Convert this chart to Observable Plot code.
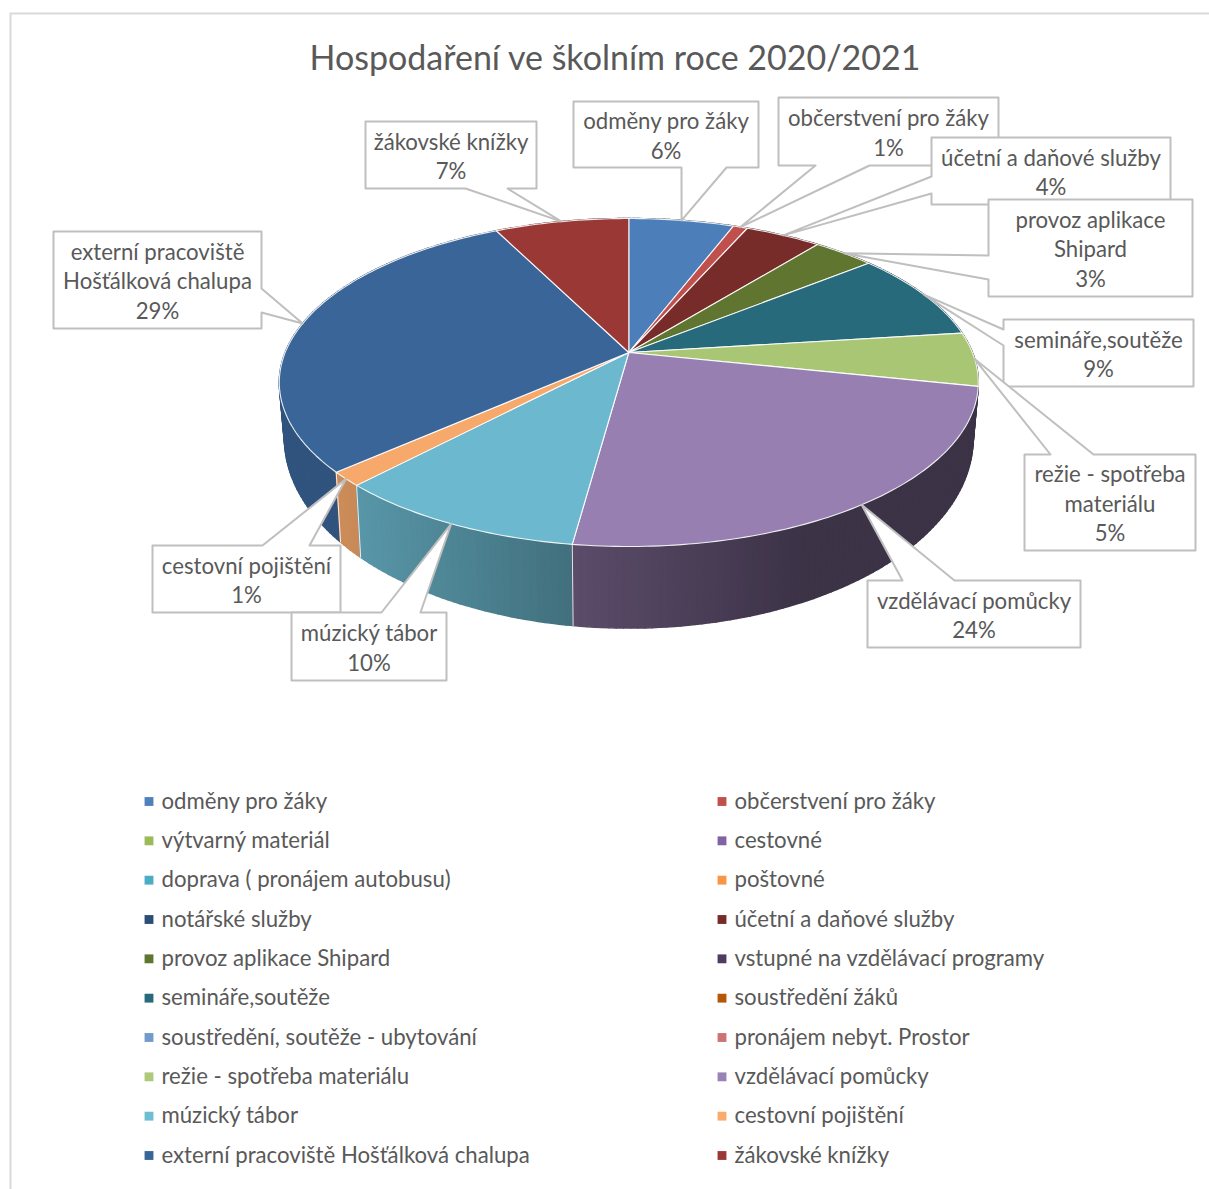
<!DOCTYPE html>
<html><head><meta charset="utf-8">
<script src="https://cdn.jsdelivr.net/npm/d3@7"></script>
<script src="https://cdn.jsdelivr.net/npm/@observablehq/plot@0.6"></script>
<style>html,body{margin:0;padding:0;background:#fff;overflow:hidden}</style>
</head><body><div id="chart"></div>
<script>
const title = "Hospodaření ve školním roce 2020/2021";
const categories = ["odměny pro žáky","občerstvení pro žáky","výtvarný materiál","cestovné","doprava ( pronájem autobusu)","poštovné","notářské služby","účetní a daňové služby","provoz aplikace Shipard","vstupné na vzdělávací programy","semináře,soutěže","soustředění žáků","soustředění, soutěže - ubytování","pronájem nebyt. Prostor","režie - spotřeba materiálu","vzdělávací pomůcky","múzický tábor","cestovní pojištění","externí pracoviště Hošťálková chalupa","žákovské knížky"];
const values = [5.8,0.8,0,0,0,0,0,4.2,3.4,0,8.8,0,0,0,5.3,23.85,9.9,1.4,29.15,7.4];
const topColors = ["#4c7fb9","#c0504d","#9bbb59","#8064a2","#4bacc6","#f79646","#2c4d75","#772c2a","#5f7530","#4d3b62","#276a7c","#b65708","#729aca","#cd7371","#a9c675","#977fb1","#6cb9cf","#f6a96b","#3a6598","#9a3835"];
const legendColors = ["#4f81bd","#c0504d","#9bbb59","#8064a2","#4bacc6","#f79646","#2c4d75","#772c2a","#5f7530","#4d3b62","#276a7c","#b65708","#729aca","#cd7371","#afc97a","#9983b5","#6fbdd1","#f9ab6b","#3a6598","#9a3835"];

// Callout layout (presentation only, keyed by category index)
const callouts = [
 {i:0, text:"odměny pro žáky", box:[573,101,758,167], side:"bottom", base:[726,681]},
 {i:1, text:"občerstvení pro žáky", box:[778,97,998,165], side:"bottom", base:[869,815]},
 {i:7, text:"účetní a daňové služby", box:[931,137,1170,204], side:"left", base:[193,176]},
 {i:8, text:"provoz aplikace\nShipard", box:[988,199,1192,296], side:"left", base:[279,255]},
 {i:10,text:"semináře,soutěže", box:[1003,319,1193,386], side:"left", base:[345,329]},
 {i:14,text:"režie - spotřeba\nmateriálu", box:[1024,454,1195,550], side:"top", base:[1050,1093]},
 {i:15,text:"vzdělávací pomůcky", box:[867,580,1080,647], side:"top", base:[902,954]},
 {i:17,text:"cestovní pojištění", box:[152,545,340,612], side:"top", base:[262,309]},
 {i:16,text:"múzický tábor", box:[291,612,446,680], side:"top", base:[381,420]},
 {i:18,text:"externí pracoviště\nHošťálková chalupa", box:[53,231,261,328], side:"right", base:[288,312]},
 {i:19,text:"žákovské knížky", box:[365,121,536,188], side:"bottom", base:[507,465]}
];

// Perspective projection of the pie discs
const top3d = {cx:628.3, cy:352, a:343.6, b:158.5, k:0.183};
const low3d = {cx:628.3, cy:403, a:338.5, b:183.5, k:0.183};
const proj = (d, th) => {
  const X = Math.sin(th), Y = -Math.cos(th), w = 1 - d.k*Y;
  return [d.cx + d.a*X/w, d.cy + d.b*Y/w];
};
const total = d3.sum(values);
const turn = v => v/total*2*Math.PI;
let acc = 0;
const slices = values.map((v,i)=>{const s={i,v,a0:turn(acc),a1:turn(acc+v)};acc+=v;return s;}).filter(s=>s.v>0);

const shade = d3.scaleLinear().domain([340,575,800]).range([0.83,0.6,0.4]).clamp(true);
const darken = (c,f)=>{const r=d3.rgb(c);return d3.rgb(r.r*f,r.g*f,r.b*f).formatHex();};

// side walls: narrow quads, back to front
const sidePts=[];let q=0;const quads=[];
for(const s of slices){
  const n=Math.max(2,Math.ceil((s.a1-s.a0)/(Math.PI/180)));
  for(let j=0;j<n;j++){
    const t0=s.a0+(s.a1-s.a0)*j/n,t1=s.a0+(s.a1-s.a0)*(j+1)/n;
    const p=[proj(top3d,t0),proj(top3d,t1),proj(low3d,t1),proj(low3d,t0)];
    const col=darken(topColors[s.i],shade((p[0][0]+p[1][0])/2));
    quads.push({id:q++,p,col,Y:-Math.cos((t0+t1)/2)});
  }
}
quads.sort((a,b)=>a.Y-b.Y);
for(const u of quads) for(const pt of [...u.p,u.p[0]]) sidePts.push({q:u.id,x:pt[0],y:pt[1],c:u.col});

// slice edges on the front wall
const edgePts=[];
for(const s of slices){
  const Y=-Math.cos(s.a0);
  if(Y>0.45){
    const a=proj(top3d,s.a0),b=proj(low3d,s.a0);
    edgePts.push({q:s.i,x:a[0],y:a[1]},{q:s.i,x:b[0],y:b[1]});
  }
}

// top faces
const topPts=[];
for(const s of slices){
  const n=Math.max(4,Math.ceil((s.a1-s.a0)/(Math.PI/180)));
  topPts.push({q:s.i,x:top3d.cx,y:top3d.cy,c:topColors[s.i]});
  for(let j=0;j<=n;j++){const p=proj(top3d,s.a0+(s.a1-s.a0)*j/n);topPts.push({q:s.i,x:p[0],y:p[1],c:topColors[s.i]});}
  topPts.push({q:s.i,x:top3d.cx,y:top3d.cy,c:topColors[s.i]});
}

// callouts: box + wedge pointing at the slice's mid angle
const sliceByI=new Map(slices.map(s=>[s.i,s]));
const boxPts=[];const labelRows=[];
callouts.forEach((c,n)=>{
  const s=sliceByI.get(c.i);const tip=proj(top3d,(s.a0+s.a1)/2);
  const [x0,y0,x1,y1]=c.box;const [b0,b1]=c.base;
  let poly;
  if(c.side==="top") poly=[[x0,y0],[b0,y0],tip,[b1,y0],[x1,y0],[x1,y1],[x0,y1]];
  if(c.side==="right") poly=[[x0,y0],[x1,y0],[x1,b0],tip,[x1,b1],[x1,y1],[x0,y1]];
  if(c.side==="bottom") poly=[[x0,y0],[x1,y0],[x1,y1],[b0,y1],tip,[b1,y1],[x0,y1]];
  if(c.side==="left") poly=[[x0,y0],[x1,y0],[x1,y1],[x0,y1],[x0,b0],tip,[x0,b1]];
  for(const p of [...poly,poly[0]]) boxPts.push({q:n,x:p[0],y:p[1]});
  labelRows.push({x:(x0+x1)/2,y:(y0+y1)/2,t:c.text+"\n"+d3.format(".0f")(s.v)+"%"});
});

// legend: two columns, ten rows
const colX=d3.scalePoint().domain([0,1]).range([148.5,721.5]);
const rowY=d3.scalePoint().domain(d3.range(10)).range([801,1155]);
const legend=categories.map((name,i)=>({name,color:legendColors[i],x:colX(i%2),y:rowY(Math.floor(i/2))}));

const FONT="Lato";
const plot=Plot.plot({
  width:1209,height:1189,margin:0,
  x:{domain:[0,1209],range:[0,1209],axis:null},
  y:{domain:[0,1189],range:[0,1189],axis:null},
  color:{type:"identity"},
  style:{background:"#fff",fontFamily:FONT},
  marks:[
    Plot.line([{x:1209,y:13},{x:10,y:13},{x:10,y:1195}],{x:"x",y:"y",stroke:"#d9d9d9",strokeWidth:2}),
    Plot.text([title],{x:()=>614.5,y:()=>58.5,text:d=>d,fontSize:34,fill:"#595959",fontFamily:FONT}),
    Plot.line(sidePts,{x:"x",y:"y",z:"q",fill:"c",stroke:"c",strokeWidth:1.5}),
    Plot.line(edgePts,{x:"x",y:"y",z:"q",stroke:"#fff",strokeWidth:1,strokeOpacity:0.85}),
    Plot.line(topPts,{x:"x",y:"y",z:"q",fill:"c",stroke:"#fff",strokeWidth:1.1,strokeOpacity:0.9,strokeLinejoin:"round"}),
    Plot.line(boxPts,{x:"x",y:"y",z:"q",fill:"#fff",stroke:"#bfbfbf",strokeWidth:2}),
    Plot.text(labelRows,{x:"x",y:"y",text:"t",fontSize:22.2,lineHeight:1.33,fill:"#595959",fontFamily:FONT}),
    Plot.dot(legend,{x:"x",y:"y",symbol:"square",r:5,fill:"color"}),
    Plot.text(legend,{x:d=>d.x+12.5,y:"y",text:"name",textAnchor:"start",fontSize:22.2,fill:"#595959",fontFamily:FONT})
  ]
});
document.getElementById("chart").appendChild(plot);
</script></body></html>
